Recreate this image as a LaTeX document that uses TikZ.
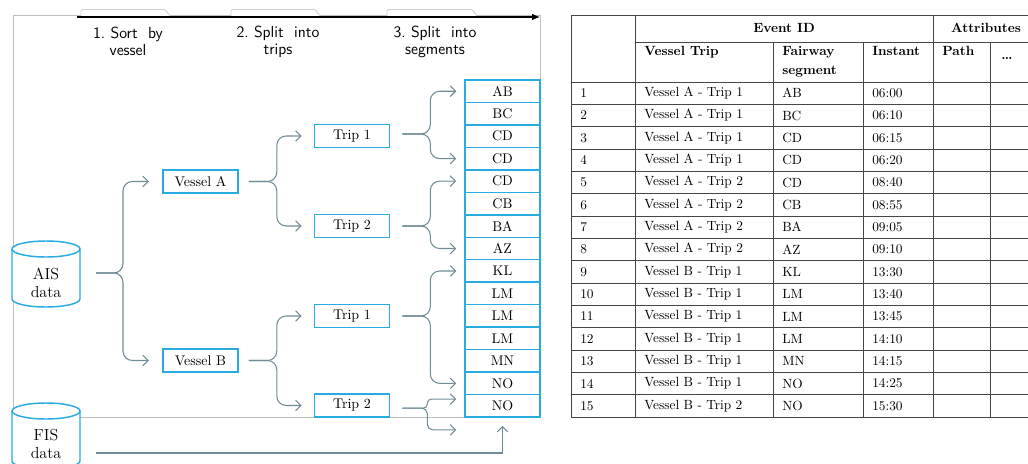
\documentclass[tikz,border=0pt]{standalone}
\usepackage{fontspec}
\usetikzlibrary{arrows.meta}
\definecolor{cyanB}{RGB}{41,171,226}
\definecolor{connC}{RGB}{112,140,150}
\definecolor{frameC}{RGB}{190,190,190}
\definecolor{tabC}{RGB}{205,205,205}
\definecolor{tblC}{RGB}{70,70,70}
\begin{document}
\begin{tikzpicture}[x=0.75pt,y=-0.75pt,
  box/.style={draw=cyanB, line width=1.2pt, fill=white, minimum width=56.25pt, minimum height=17pt, inner sep=0pt, font=\fontsize{10.5}{12}\selectfont},
  seg/.style={draw=cyanB, line width=1.1pt, fill=white, minimum width=56.25pt, minimum height=16.85pt, inner sep=0pt, font=\fontsize{10.5}{12}\selectfont},
  cyl/.style={draw=cyanB, line width=1.1pt, fill=white},
  cyltext/.style={align=center, inner sep=0pt, font=\fontsize{12}{13.5}\selectfont},
  conn/.style={draw=connC, line width=0.8pt, rounded corners=7pt, -{Straight Barb[length=4pt,width=8pt]}},
  hdr/.style={align=center, inner sep=0pt, font=\sffamily\fontsize{12}{12.75}\selectfont},
  tbl/.style={draw=tblC, line width=0.7pt},
  cell/.style={anchor=west, inner sep=0pt, font=\fontsize{10}{12}\selectfont},
  hcell/.style={anchor=north west, inner sep=0pt, align=left, font=\bfseries\fontsize{10}{14.25}\selectfont},
  tabshape/.style={draw=tabC, line width=0.6pt, fill=white, rounded corners=1pt}]
\useasboundingbox (0,0) rectangle (1028,464);
\clip (0,0) rectangle (1028,464);

% frame
\draw[frameC, line width=0.7pt] (13,15) rectangle (540,417);
% tabs
\foreach \a/\b in {81/165, 231/315, 387/472}{
  \draw[tabshape] (\a,16) -- (\a,9.5) -- (\b,9.5) -- (\b+5,16);
}
% timeline arrow
\draw[black, line width=0.8pt, -{Latex[length=6pt,width=5pt]}] (77,17) -- (540,17);

% step labels
\node[hdr] (h1) at (128,41.5) {1.\ Sort\ \ by\\vessel};
\node[hdr] (h2) at (278,41.5) {2.\ Split\ \ into\\trips};
\node[hdr] (h3) at (435,41.5) {3.\ Split\ \ into\\segments};

% cylinders
\foreach \cy in {249, 411}{
  \path[cyl, draw=none] (12,\cy) -- (12,\cy+50) arc[start angle=180, end angle=360, x radius=25.5pt, y radius=6pt] -- (80,\cy) -- cycle;
  \draw[cyanB, line width=1.1pt] (12,\cy) -- (12,\cy+50) arc[start angle=180, end angle=360, x radius=25.5pt, y radius=6pt] -- (80,\cy);
  \draw[cyl] (46,\cy) ellipse[x radius=25.5pt, y radius=6pt];
}
\node[cyltext] (ais) at (46,283) {AIS\\data};
\node[cyltext] (fis) at (46,444) {FIS\\data};

% boxes
\node[box] (vA) at (200.5,181.5) {Vessel A};
\node[box] (vB) at (200.5,360.5) {Vessel B};
\node[box] (t1a) at (352,136) {Trip 1};
\node[box] (t2a) at (352,226) {Trip 2};
\node[box] (t1b) at (352,316) {Trip 1};
\node[box] (t2b) at (352,405.5) {Trip 2};

\foreach \t [count=\i] in {AB,BC,CD,CD,CD,CB,BA,AZ,KL,LM,LM,LM,MN,NO,NO}
  \node[seg] (s\i) at (502.5,{80+(\i-0.5)*22.47}) {\t};

% connectors
\coordinate (aisout) at (96,273);
\draw[conn] (aisout) -- ++(27,0) |- ([xshift=-10pt]vA.west);
\draw[conn] (aisout) -- ++(27,0) |- ([xshift=-10pt]vB.west);

\draw[conn] ([xshift=7.5pt]vA.east) -- ++(28,0) |- ([xshift=-9pt]t1a.west);
\draw[conn] ([xshift=7.5pt]vA.east) -- ++(28,0) |- ([xshift=-9pt]t2a.west);
\draw[conn] ([xshift=7.5pt]vB.east) -- ++(28,0) |- ([xshift=-9pt]t1b.west);
\draw[conn] ([xshift=7.5pt]vB.east) -- ++(28,0) |- ([xshift=-9pt]t2b.west);

\draw[conn] ([xshift=9pt,yshift=1.5pt]t1a.east) -- ++(28,0) |- ([xshift=-6pt]s1.west);
\draw[conn] ([xshift=9pt,yshift=1.5pt]t1a.east) -- ++(28,0) |- ([xshift=-6pt]s4.west);
\draw[conn] ([xshift=9pt]t2a.east) -- ++(28,0) |- ([xshift=-6pt]s5.west);
\draw[conn] ([xshift=9pt]t2a.east) -- ++(28,0) |- ([xshift=-6pt]s8.west);
\draw[conn] ([xshift=9pt]t1b.east) -- ++(28,0) |- ([xshift=-6pt]s9.west);
\draw[conn] ([xshift=9pt]t1b.east) -- ++(28,0) |- ([xshift=-6pt]s14.west);
\coordinate (t2bout) at ([xshift=9pt,yshift=-2pt]t2b.east);
\coordinate (below) at ([xshift=-6pt,yshift=-18pt]s15.west);
\draw[conn, rounded corners=3pt] (t2bout) -- ++(25,0) |- ([xshift=-6pt,yshift=5pt]s15.west);
\draw[conn, rounded corners=4pt] (t2bout) -- ++(25,0) |- (below);

\coordinate (fisout) at (96,453);
\draw[conn, rounded corners=0pt] (fisout) -| ([yshift=-6pt]s15.south);

% ===== table =====
\def\rh{22.333}
\draw[tbl] (571,15) -- (1046,15);
\draw[tbl] (635,42) -- (1046,42);
\foreach \k in {0,...,15}
  \draw[tbl] (571,{82+\k*\rh}) -- (1046,{82+\k*\rh});
\draw[tbl] (571,15) -- (571,417);
\draw[tbl] (635,15) -- (635,417);
\draw[tbl] (773,42) -- (773,417);
\draw[tbl] (863,42) -- (863,417);
\draw[tbl] (933,15) -- (933,417);
\draw[tbl] (990,42) -- (990,417);

\node[font=\bfseries\fontsize{10}{12}\selectfont, inner sep=0pt] (evid) at (784,28) {Event ID};
\node[font=\bfseries\fontsize{10}{12}\selectfont, inner sep=0pt] (attr) at (986,28) {Attributes};
\node[hcell] (hvt) at (644,46) {Vessel Trip};
\node[hcell] (hfs) at (782,46) {Fairway\\segment};
\node[hcell] (hin) at (872,46) {Instant};
\node[hcell] (hpa) at (942,46) {Path};
\node[font=\bfseries\fontsize{10}{12}\selectfont, inner sep=0pt] (hdots) at (1007,58) {\dots};

\foreach \vt/\fs/\tm [count=\i] in {
  Vessel A - Trip 1/AB/06:00,
  Vessel A - Trip 1/BC/06:10,
  Vessel A - Trip 1/CD/06:15,
  Vessel A - Trip 1/CD/06:20,
  Vessel A - Trip 2/CD/08:40,
  Vessel A - Trip 2/CB/08:55,
  Vessel A - Trip 2/BA/09:05,
  Vessel A - Trip 2/AZ/09:10,
  Vessel B - Trip 1/KL/13:30,
  Vessel B - Trip 1/LM/13:40,
  Vessel B - Trip 1/LM/13:45,
  Vessel B - Trip 1/LM/14:10,
  Vessel B - Trip 1/MN/14:15,
  Vessel B - Trip 1/NO/14:25,
  Vessel B - Trip 2/NO/15:30}{
  \node[cell] (n\i) at (580,{82+(\i-0.5)*\rh}) {\i};
  \node[cell] (v\i) at (644,{82+(\i-0.5)*\rh}) {\vt};
  \node[cell] (f\i) at (782,{82+(\i-0.5)*\rh}) {\fs};
  \node[cell] (m\i) at (872,{82+(\i-0.5)*\rh}) {\tm};
}
\end{tikzpicture}
\end{document}
